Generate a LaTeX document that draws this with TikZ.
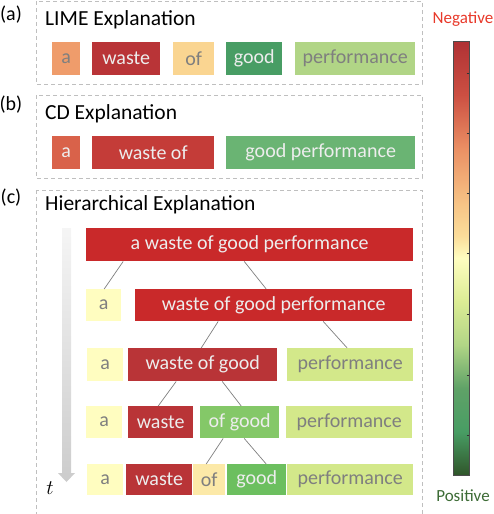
\documentclass[tikz,border=0pt]{standalone}
\usepackage{fontspec}
\setmainfont{Carlito}
\usepackage{tikz}
\usetikzlibrary{positioning}
\definecolor{dimtxt}{HTML}{7F7F7F}
\definecolor{lighttxt}{HTML}{EDEDED}
\definecolor{panelgray}{HTML}{BFBFBF}
\definecolor{cOrange}{HTML}{EF9C6B}
\definecolor{cRed}{HTML}{B93437}
\definecolor{cBright}{HTML}{C9292A}
\definecolor{cPeach}{HTML}{FAD591}
\definecolor{cDkGreen}{HTML}{489D64}
\definecolor{cLime}{HTML}{B1D586}
\definecolor{cCoral}{HTML}{D9624A}
\definecolor{cRedB}{HTML}{C43C38}
\definecolor{cGreen}{HTML}{6AB473}
\definecolor{cPale}{HTML}{FFFDC0}
\definecolor{cYgreen}{HTML}{D3E88A}
\definecolor{cLgreen}{HTML}{84C868}
\definecolor{cCream}{HTML}{FCE9A8}
\definecolor{cMgreen}{HTML}{6CBF5F}
\definecolor{negred}{HTML}{E8392A}
\definecolor{posgreen}{HTML}{3C6B35}
\pgfdeclareverticalshading{rdylgn}{100bp}{
  color(0bp)=(posgreen!80!black); color(25bp)=(posgreen!80!black);
  color(30bp)=(cDkGreen); color(35bp)=(cGreen!90!black); color(40bp)=(cLime);
  color(45bp)=(cYgreen!80!cPale); color(50bp)=(cPale); color(52.5bp)=(cPeach!80!cPale);
  color(56.25bp)=(cPeach!70!cOrange); color(62.5bp)=(cOrange!80!cCoral);
  color(68.75bp)=(cCoral!60!cRed); color(75bp)=(cRed!95!black); color(100bp)=(cRed!95!black)}
\newcommand{\word}[7]{\node[word,fill=#2,text=#3,minimum width=#5,minimum height=#6] (#1) at (#4) {#7}}

\begin{document}
\begin{tikzpicture}[x=1pt,y=-1pt,
    word/.style={anchor=north west,inner sep=0,font=\fontsize{20}{20}\selectfont},
    panel/.style={draw=panelgray,line width=0.8pt,dash pattern=on 4pt off 3pt},
    link/.style={draw=dimtxt,line width=0.7pt},
    heading/.style={anchor=west,inner sep=0,font=\fontsize{21.5}{22}\selectfont},
    tag/.style={inner sep=0,font=\fontsize{20}{20}\selectfont}]
    \useasboundingbox (0,0) rectangle (494,514);
    % panels
    \draw[panel] (36,1) rectangle (422,84);
    \draw[panel] (36,95) rectangle (422,178);
    \draw[panel] (36,190) rectangle (422,530);
    \node[tag] (taga) at (11,15) {(a)};
    \node[tag] (tagb) at (11,105) {(b)};
    \node[tag] (tagc) at (11,198) {(c)};
    \node[heading] (limetitle) at (45,20) {LIME Explanation};
    \node[heading] (cdtitle) at (45,114) {CD Explanation};
    \node[heading] (hiertitle) at (45,205) {Hierarchical Explanation};
    % (a) LIME
    \word{la}{cOrange}{dimtxt}{52,42}{28}{33}{a};
    \word{lwaste}{cRed}{lighttxt}{92,42}{68}{33}{waste};
    \word{lof}{cPeach}{dimtxt}{173,42}{41}{33}{of};
    \word{lgood}{cDkGreen}{lighttxt}{226,42}{56}{33}{good};
    \word{lperf}{cLime}{dimtxt}{295,42}{120}{33}{performance};
    % (b) CD
    \word{ca}{cCoral}{lighttxt}{52,136}{28}{33}{a};
    \word{cwaste}{cRedB}{lighttxt}{92,136}{122}{33}{waste of};
    \word{cgood}{cGreen}{lighttxt}{226,136}{189}{33}{good performance};
    % (c) hierarchy, row by row
    \word{root}{cBright}{lighttxt}{86,228}{327}{33}{a waste of good performance};
    \word{atwo}{cPale}{dimtxt}{86,289}{35}{32}{a};
    \word{bigtwo}{cBright}{lighttxt}{135,289}{277}{32}{waste of good performance};
    \word{athree}{cPale}{dimtxt}{87,348}{36}{33}{a};
    \word{wogthree}{cRed}{lighttxt}{128,348}{149}{33}{waste of good};
    \word{perfthree}{cYgreen}{dimtxt}{287,348}{126}{33}{performance};
    \word{afour}{cPale}{dimtxt}{86,406}{36}{32}{a};
    \word{wastefour}{cRed}{lighttxt}{128,406}{65}{32}{waste};
    \word{ogfour}{cLgreen}{lighttxt}{200,406}{79}{32}{of good};
    \word{perffour}{cYgreen}{dimtxt}{286,406}{126}{32}{performance};
    \word{afive}{cPale}{dimtxt}{87,464}{36}{31}{a};
    \word{wastefive}{cRed}{lighttxt}{126,464}{66}{31}{waste};
    \word{offive}{cCream}{dimtxt}{193,464}{32}{31}{of};
    \word{goodfive}{cMgreen}{lighttxt}{227,464}{59}{31}{good};
    \word{perffive}{cYgreen}{dimtxt}{287,464}{126}{31}{performance};
    % splits
    \draw[link] ([xshift=-126.5]root.south) -- ([xshift=0.5]atwo.north);
    \draw[link] ([xshift=-5.5]root.south) -- ([xshift=-7.5]bigtwo.north);
    \draw[link] ([xshift=-55.5]bigtwo.south) -- ([xshift=-1.5]wogthree.north);
    \draw[link] ([xshift=49.5]bigtwo.south) -- ([xshift=-3]perfthree.north);
    \draw[link] ([xshift=-26.5]wogthree.south) -- ([xshift=-2.5]wastefour.north);
    \draw[link] ([xshift=19.5]wogthree.south) -- ([xshift=1.5]ogfour.north);
    \draw[link] ([xshift=-16.5]ogfour.south) -- ([xshift=-3]offive.north);
    \draw[link] ([xshift=4.5]ogfour.south) -- ([xshift=9.5]goodfive.north);
    % time arrow
    \shade[top color=black!4,bottom color=black!20]
      (62,228) -- (71,228) -- (71,473) -- (75,473) -- (66.5,482) -- (58,473) -- (62,473) -- cycle;
    \node[tag] (tlabel) at (50,488) {$t$};
    % colour bar
    \shade[shading=rdylgn] (453,41) rectangle (469,475);
    \draw[black!70,line width=0.8pt] (453,41) rectangle (469,475);
    \foreach \ty in {73,133,193,253,314,375,435}
      \draw[black!80,line width=0.6pt] (466.5,\ty) -- (469,\ty);
    \node[font=\fontsize{17}{17}\selectfont,text=negred,inner sep=0] (neg) at (463,19) {Negative};
    \node[font=\fontsize{17}{17}\selectfont,text=posgreen,inner sep=0] (pos) at (463,496) {Positive};
\end{tikzpicture}
\end{document}
